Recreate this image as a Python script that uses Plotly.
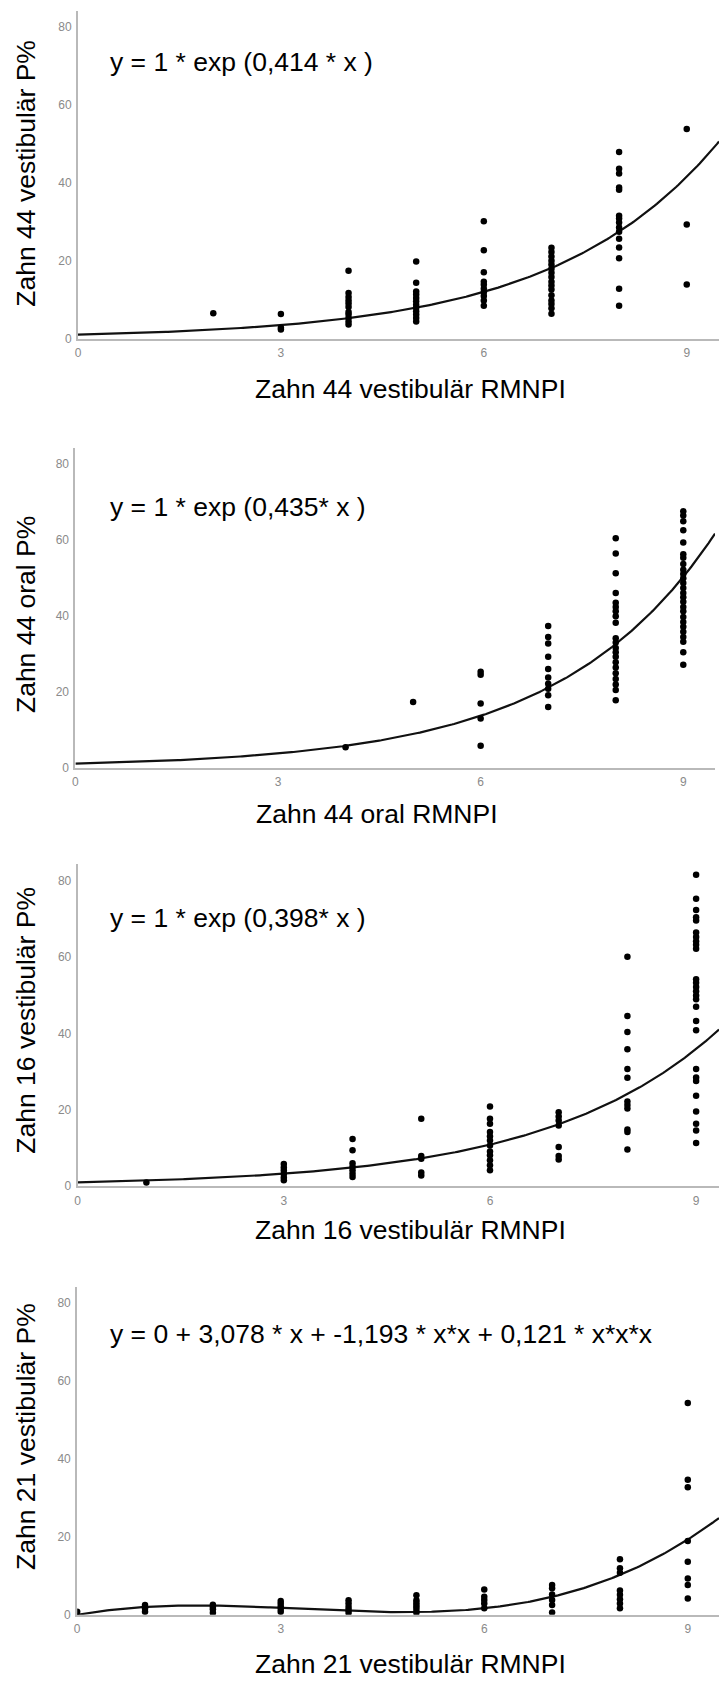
import numpy as np
import plotly.graph_objects as go

# ---------------- data ----------------
# Panel 1: Zahn 44 vestibulär
p1_x = [2, 3, 3, 3,
        4, 4, 4, 4, 4, 4, 4, 4, 4, 4, 4,
        5, 5, 5, 5, 5, 5, 5, 5, 5, 5, 5, 5,
        6, 6, 6, 6, 6, 6, 6, 6, 6, 6,
        7, 7, 7, 7, 7, 7, 7, 7, 7, 7, 7, 7, 7, 7, 7, 7,
        8, 8, 8, 8, 8, 8, 8, 8, 8, 8, 8, 8, 8, 8, 8,
        9, 9, 9]
p1_y = [6.5, 6.3, 2.8, 2.3,
        17.4, 11.7, 10.7, 9.8, 9.0, 8.1, 6.8, 6.2, 5.3, 4.4, 3.6,
        19.8, 14.3, 12.1, 11.3, 10.4, 9.6, 8.7, 7.9, 7.0, 6.2, 5.3, 4.4,
        30.1, 22.7, 17.0, 14.6, 13.8, 12.8, 11.9, 10.9, 9.8, 8.4,
        23.3, 22.2, 21.1, 20.0, 19.0, 17.9, 16.9, 15.8, 14.6, 13.6, 12.6, 11.1, 9.8, 8.9, 7.8, 6.4,
        47.9, 43.6, 42.4, 38.8, 38.2, 31.5, 30.8, 29.8, 28.5, 27.4, 25.6, 23.4, 20.6, 12.8, 8.4,
        53.8, 29.3, 13.9]

# Panel 2: Zahn 44 oral
p2_x = [4, 5,
        6, 6, 6, 6, 6,
        7, 7, 7, 7, 7, 7, 7, 7, 7, 7,
        8, 8, 8, 8, 8, 8, 8, 8, 8, 8, 8, 8, 8, 8, 8, 8, 8, 8, 8, 8, 8,
        9, 9, 9, 9, 9, 9, 9, 9, 9, 9, 9, 9, 9, 9, 9, 9, 9, 9, 9, 9, 9, 9, 9, 9, 9, 9]
p2_y = [5.3, 17.2,
        25.2, 24.4, 16.8, 12.9, 5.7,
        37.2, 34.3, 32.6, 29.1, 25.9, 23.7, 22.0, 20.7, 19.0, 15.9,
        60.3, 56.3, 51.1, 45.9, 43.3, 42.2, 41.1, 39.8, 38.1, 34.0, 32.9, 31.4, 30.3, 29.1,
        27.7, 26.3, 24.8, 23.3, 21.8, 20.4, 17.7,
        67.4, 66.3, 64.8, 62.4, 59.2, 56.1, 55.2, 53.5, 52.0, 50.9, 49.8, 48.5, 47.2, 45.9,
        44.8, 43.6, 42.2, 41.1, 39.6, 38.3, 37.0, 35.7, 34.3, 33.1, 30.3, 27.0]

# Panel 3: Zahn 16 vestibulär
p3_x = [1,
        3, 3, 3, 3, 3, 3,
        4, 4, 4, 4, 4, 4, 4,
        5, 5, 5, 5, 5,
        6, 6, 6, 6, 6, 6, 6, 6, 6, 6, 6, 6,
        7, 7, 7, 7, 7, 7, 7,
        8, 8, 8, 8, 8, 8, 8, 8, 8, 8, 8, 8,
        9, 9, 9, 9, 9, 9, 9, 9, 9, 9, 9, 9, 9, 9, 9, 9, 9, 9, 9, 9, 9, 9, 9, 9, 9, 9, 9]
p3_y = [1.0,
        5.8, 4.9, 4.1, 3.2, 2.3, 1.6,
        12.4, 9.4, 6.0, 5.1, 4.2, 3.3, 2.4,
        17.7, 7.9, 7.2, 3.6, 2.8,
        20.9, 17.7, 16.4, 14.2, 13.1, 12.0, 10.7, 9.1, 8.1, 6.8, 5.5, 4.2,
        19.4, 18.3, 17.2, 15.9, 10.3, 7.9, 7.0,
        60.1, 44.6, 40.4, 35.9, 30.7, 28.4, 22.2, 21.3, 20.4, 14.9, 14.2, 9.6,
        81.6, 75.3, 72.4, 70.5, 69.6, 66.5, 65.3, 64.2, 63.3, 62.2, 54.2, 53.3, 52.2, 51.1,
        50.0, 49.0, 47.0, 43.3, 40.9, 30.7, 28.5, 27.6, 23.7, 19.6, 16.4, 14.6, 11.3]

# Panel 4: Zahn 21 vestibulär
p4_x = [0,
        1, 1, 1,
        2, 2, 2, 2,
        3, 3, 3, 3, 3,
        4, 4, 4, 4, 4,
        5, 5, 5, 5, 5, 5, 5,
        6, 6, 6, 6, 6,
        7, 7, 7, 7, 7, 7,
        8, 8, 8, 8, 8, 8, 8, 8,
        9, 9, 9, 9, 9, 9, 9, 9]
p4_y = [0.8,
        2.5, 1.6, 0.8,
        2.6, 2.0, 1.4, 0.5,
        3.5, 2.9, 2.2, 1.5, 0.8,
        3.7, 2.9, 2.0, 1.2, 0.5,
        5.0, 3.7, 3.1, 2.5, 1.9, 1.2, 0.5,
        6.5, 4.6, 3.8, 2.9, 1.7,
        7.6, 6.8, 5.2, 3.8, 2.5, 0.6,
        14.2, 11.9, 10.8, 6.2, 5.1, 4.0, 2.9, 1.7,
        54.3, 34.6, 32.7, 18.9, 13.6, 9.3, 7.6, 4.2]

# fitted model coefficients (as printed in the chart)
p1_exp = [1.0, 0.414]
p2_exp = [1.0, 0.435]
p3_exp = [1.0, 0.398]
p4_cubic = [0.0, 3.078, -1.193, 0.121]

x_titles = ["Zahn 44 vestibulär RMNPI", "Zahn 44 oral RMNPI",
            "Zahn 16 vestibulär RMNPI", "Zahn 21 vestibulär RMNPI"]
y_titles = ["Zahn 44 vestibulär P%", "Zahn 44 oral P%",
            "Zahn 16 vestibulär P%", "Zahn 21 vestibulär P%"]
equations = ["y = 1 * exp (0,414 * x )", "y = 1 * exp (0,435* x )",
             "y = 1 * exp (0,398* x )",
             "y = 0 + 3,078 * x + -1,193 * x*x + 0,121 * x*x*x"]
x_ticks = [0, 3, 6, 9]
y_ticks = [0, 20, 40, 60, 80]

# ---------------- layout geometry (pixels) ----------------
W, H = 719, 1686
FONT = "Liberation Sans, Arial, sans-serif"


def fx(p):
    return p / W


def fy(p):
    return 1 - p / H


panels = [
    dict(x=p1_x, y=p1_y, fit=("exp", p1_exp), left=75.3, right=719, top=11, bottom=340,
         xmax=9.477, ymax=84.1, xt=(409, 391), yt=(23, 173.5), eq=(105, 62)),
    dict(x=p2_x, y=p2_y, fit=("exp", p2_exp), left=72.7, right=715, top=450, bottom=770.7,
         xmax=9.47, ymax=84.0, xt=(376, 817), yt=(23, 616.7), eq=(105, 509)),
    dict(x=p3_x, y=p3_y, fit=("exp", p3_exp), left=75, right=719, top=867.3, bottom=1191.2,
         xmax=9.333, ymax=84.5, xt=(409, 1235), yt=(23, 1024), eq=(105, 922.3)),
    dict(x=p4_x, y=p4_y, fit=("cubic", p4_cubic), left=74.5, right=719, top=1292, bottom=1621.5,
         xmax=9.46, ymax=84.1, xt=(409, 1671), yt=(23, 1442), eq=(105, 1339.7)),
]

fig = go.Figure()
annotations = []
layout_axes = {}

for i, p in enumerate(panels):
    k = "" if i == 0 else str(i + 1)
    xa, ya = "x" + k, "y" + k
    # fitted curve from the printed model
    xs = np.linspace(0, p["xmax"], 300)
    kind, c = p["fit"]
    if kind == "exp":
        ys = c[0] * np.exp(c[1] * xs)
    else:
        ys = c[0] + c[1] * xs + c[2] * xs ** 2 + c[3] * xs ** 3
    fig.add_trace(go.Scatter(x=xs, y=ys, mode="lines", line=dict(color="#111111", width=2.2),
                             xaxis=xa, yaxis=ya, showlegend=False, hoverinfo="skip"))
    fig.add_trace(go.Scatter(x=p["x"], y=p["y"], mode="markers",
                             marker=dict(color="black", size=6.5, line=dict(width=0)),
                             xaxis=xa, yaxis=ya, showlegend=False))

    layout_axes["xaxis" + k] = dict(
        domain=[fx(p["left"]), fx(p["right"])], range=[0, p["xmax"]], anchor=ya,
        showline=True, linecolor="#b9b9b9", linewidth=2, showgrid=False, zeroline=False,
        ticks="", tickvals=x_ticks, ticktext=[str(v) for v in x_ticks],
        tickfont=dict(family=FONT, size=12, color="#8a8a8a"), ticklabelstandoff=2,
    )
    layout_axes["yaxis" + k] = dict(
        domain=[fy(p["bottom"]), fy(p["top"])], range=[0, p["ymax"]], anchor=xa,
        showline=True, linecolor="#b9b9b9", linewidth=2, showgrid=False, zeroline=False,
        ticks="", tickvals=y_ticks, ticktext=[str(v) for v in y_ticks],
        tickfont=dict(family=FONT, size=12, color="#8a8a8a"), ticklabelstandoff=2,
    )

    annotations.append(dict(text=x_titles[i], x=fx(p["xt"][0]), y=fy(p["xt"][1]),
                            xref="paper", yref="paper", xanchor="center", yanchor="middle",
                            showarrow=False, font=dict(family=FONT, size=26.5, color="black")))
    annotations.append(dict(text=y_titles[i], x=fx(p["yt"][0]), y=fy(p["yt"][1]),
                            xref="paper", yref="paper", xanchor="center", yanchor="middle",
                            textangle=-90, showarrow=False,
                            font=dict(family=FONT, size=26.5, color="black")))
    annotations.append(dict(text=equations[i], x=fx(p["eq"][0]), y=fy(p["eq"][1]),
                            xref="paper", yref="paper", xanchor="left", yanchor="middle",
                            showarrow=False, font=dict(family=FONT, size=26.5, color="black")))

fig.update_layout(
    width=W, height=H, margin=dict(l=0, r=0, t=0, b=0),
    paper_bgcolor="white", plot_bgcolor="white",
    annotations=annotations, **layout_axes,
)

fig.write_html("out.html",
               config={"displayModeBar": False, "staticPlot": True},
               post_script="document.body.style.margin='0';document.body.style.padding='0';"
                           "document.documentElement.style.overflow='hidden';")
